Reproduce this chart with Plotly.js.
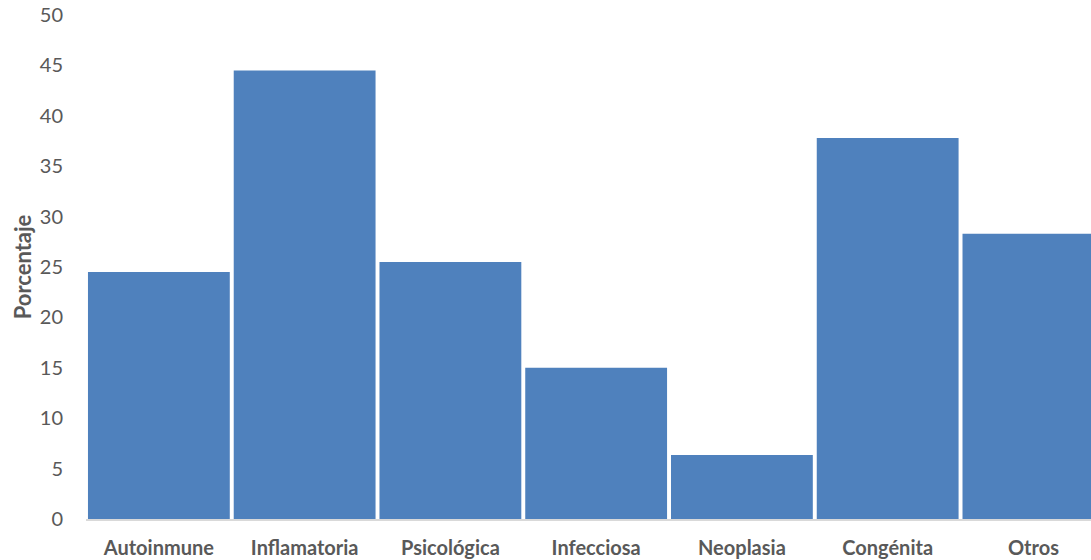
<!DOCTYPE html>
<html><head><meta charset="utf-8">
<script src="https://cdn.plot.ly/plotly-3.0.1.min.js"></script>
<style>html,body{margin:0;padding:0;background:#fff}#chart{width:1091px;height:560px}</style>
</head><body><div id="chart"></div>
<script>
const categories = ["Autoinmune","Inflamatoria","Psicológica","Infecciosa","Neoplasia","Congénita","Otros"];
const porcentaje = [24.5, 44.5, 25.5, 15.0, 6.35, 37.8, 28.3];
const yTicks = [0,5,10,15,20,25,30,35,40,45,50];

const FONT = 'Lato, "Open Sans", sans-serif';
const trace = {
  type: 'bar', x: categories, y: porcentaje,
  marker: {color: '#4F81BD', line: {width: 0}},
  hoverinfo: 'x+y'
};
const layout = {
  width: 1091, height: 560,
  margin: {l: 86, r: 0, t: 15, b: 41},
  paper_bgcolor: '#fff', plot_bgcolor: '#fff',
  bargap: 0.027,
  showlegend: false,
  font: {family: FONT, color: '#595959', size: 20},
  xaxis: {
    range: [-0.5, 6.395], showgrid: false, zeroline: false,
    showline: true, linecolor: '#d9d9d9', linewidth: 2,
    ticks: 'outside', ticklen: 10, tickcolor: 'rgba(0,0,0,0)',
    tickfont: {family: FONT, size: 20, color: '#595959', weight: 'bold'}
  },
  yaxis: {
    range: [0, 50], tickvals: yTicks, showgrid: false, zeroline: false, showline: false,
    ticks: 'outside', ticklen: 18, tickcolor: 'rgba(0,0,0,0)',
    tickfont: {family: FONT, size: 20, color: '#595959'},
    title: {text: 'Porcentaje', standoff: 2, font: {family: FONT, size: 22, color: '#595959', weight: 'bold'}}
  }
};
Plotly.newPlot('chart', [trace], layout, {displayModeBar: false, staticPlot: true});
</script></body></html>
